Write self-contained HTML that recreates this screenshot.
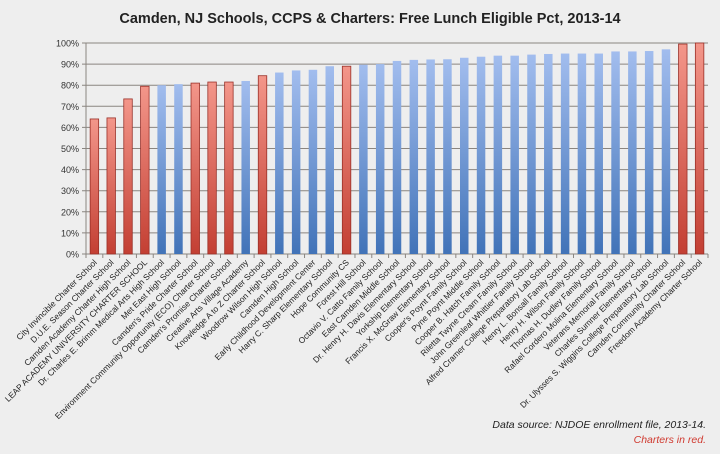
<!DOCTYPE html>
<html><head><meta charset="utf-8"><style>
body{margin:0;background:#eeeeee;}
svg{display:block;font-family:"Liberation Sans",sans-serif;}
</style></head><body>
<svg id="chart" width="720" height="454">
<defs>
<linearGradient id="gr" x1="0" y1="0" x2="0" y2="1"><stop offset="0" stop-color="#f3968a"/><stop offset="1" stop-color="#c33f33"/></linearGradient>
<linearGradient id="gb" x1="0" y1="0" x2="0" y2="1"><stop offset="0" stop-color="#a2bdee"/><stop offset="1" stop-color="#4173b8"/></linearGradient>
</defs>
<rect width="720" height="454" fill="#eeeeee"/>
<text x="370" y="23" text-anchor="middle" font-size="14.5" font-weight="bold" fill="#222">Camden, NJ Schools, CCPS &amp; Charters: Free Lunch Eligible Pct, 2013-14</text>
<g id="grid"></g><g id="bars"></g><g id="labels"></g>
<text x="706" y="428" text-anchor="end" font-size="10.5" font-style="italic" fill="#222">Data source: NJDOE enrollment file, 2013-14.</text>
<text x="706" y="443" text-anchor="end" font-size="10.5" font-style="italic" fill="#d03a30">Charters in red.</text>
</svg>
<script>
const schools=["City Invincible Charter School","D.U.E. Season Charter School","Camden Academy Charter High School","LEAP ACADEMY UNIVERSITY CHARTER SCHOOL","Dr. Charles E. Brimm Medical Arts High School","Met East High School","Camden's Pride Charter School","Environment Community Opportunity (ECO) Charter School","Camden's Promise Charter School","Creative Arts Village Academy","Knowledge A to Z Charter School","Woodrow Wilson High School","Camden High School","Early Childhood Development Center","Harry C. Sharp Elementary School","Hope Community CS","Forest Hill School","Octavio V. Catto Family School","East Camden Middle School","Dr. Henry H. Davis Elementary School","Yorkship Elementary School","Francis X. McGraw Elementary School","Cooper's Poynt Family School","Pyne Poynt Middle School","Cooper B. Hatch Family School","Riletta Twyne Cream Family School","John Greenleaf Whittier Family School","Alfred Cramer College Preparatory Lab School","Henry L. Bonsall Family School","Henry H. Wilson Family School","Thomas H. Dudley Family School","Rafael Cordero Molina Elementary School","Veterans Memorial Family School","Charles Sumner Elementary School","Dr. Ulysses S. Wiggins College Preparatory Lab School","Camden Community Charter School","Freedom Academy Charter School"];
const values=[64,64.5,73.5,79.5,80,80.5,81,81.5,81.5,82,84.5,86,87,87.3,89,89,89.7,90,91.5,92,92.2,92.3,93,93.5,94,94,94.5,94.8,95,95,95,96,96,96.2,97,99.5,100];
const charter=[1,1,1,1,0,0,1,1,1,0,1,0,0,0,0,1,0,0,0,0,0,0,0,0,0,0,0,0,0,0,0,0,0,0,0,1,1];
const ticks=[0,10,20,30,40,50,60,70,80,90,100];
const L=86,R=708,T=43,B=254,NS="http://www.w3.org/2000/svg";
const y=v=>B-(v/100)*(B-T);
const step=(R-L)/schools.length;
const x=i=>L+(i+0.5)*step;
function mk(tag,attrs,parent){const e=document.createElementNS(NS,tag);for(const k in attrs)e.setAttribute(k,attrs[k]);document.getElementById(parent).appendChild(e);return e;}
ticks.forEach(t=>{
 const l=mk('line',{x1:L-4,x2:R,y1:y(t),y2:y(t),stroke:'#8a8580','stroke-width':1},'grid');
 
 
 const tx=mk('text',{x:L-7,y:y(t)+3.5,'text-anchor':'end','font-size':9,fill:'#333'},'grid');
 tx.textContent=t+'%';
 
 
});
const ax=mk('line',{x1:L,x2:L,y1:T,y2:B,stroke:'#8a8580'},'grid');


for(let i=0;i<=schools.length;i++){const tk=mk('line',{x1:L+i*step,x2:L+i*step,y1:B,y2:B+4,stroke:'#8a8580'},'grid');
 
 }
schools.forEach((s,i)=>{
 const w=8.5;
 const r=mk('rect',{x:x(i)-w/2,y:y(values[i]),width:w,height:B-y(values[i]),fill:charter[i]?'url(#gr)':'url(#gb)',stroke:charter[i]?'#9a3028':'none','stroke-width':0.8},'bars');
 
 
 const t=mk('text',{transform:`translate(${x(i)+3},${B+9}) rotate(-45)`,'text-anchor':'end','font-size':8.4,fill:'#222'},'labels');
 t.textContent=s;
 
 
});
</script>
</body></html>
